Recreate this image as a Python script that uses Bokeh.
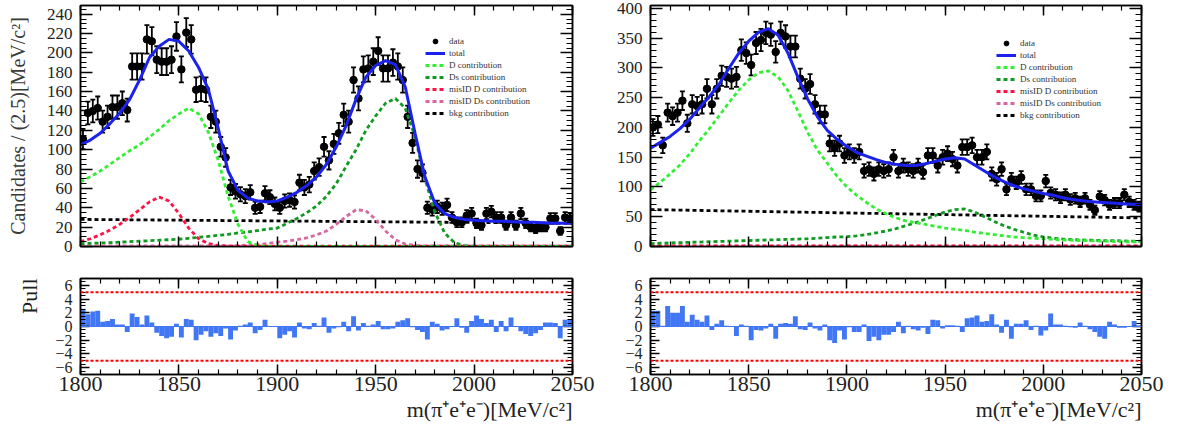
import numpy as np
from bokeh.plotting import figure
from bokeh.models import (Range1d, LinearAxis, SingleIntervalTicker, CustomJSTickFormatter,
                          Legend, LegendItem, Whisker, ColumnDataSource, Span, Title, TeeHead)
from bokeh.layouts import column, row
from bokeh.embed import file_html
from bokeh.resources import INLINE

# ---------------- data ----------------
X_LOW, X_HIGH, BIN_WIDTH = 1800.0, 2050.0, 2.5
x_ticks_step = 50

counts_left = [111, 138, 140, 143, 129, 134, 144, 144, 148, 141,
               186, 186, 186, 214, 212, 193, 191, 191, 193, 217,
               183, 221, 214, 162, 163, 162, 134, 129, 103, 92,
               61, 57, 54, 52, 56, 40, 41, 55, 51, 44,
               40, 47, 48, 46, 66, 61, 64, 78, 82, 103,
               89, 106, 117, 136, 129, 172, 153, 183, 184, 191,
               202, 184, 184, 190, 186, 172, 134, 107, 80, 76,
               40, 38, 41, 39, 43, 30, 25, 25, 32, 34,
               24, 22, 34, 36, 30, 30, 22, 30, 22, 34,
               24, 20, 18, 20, 20, 29, 29, 16, 30, 29]

counts_right = [200, 205, 170, 225, 219, 225, 245, 207, 239, 236,
                239, 265, 239, 265, 287, 285, 282, 285, 330, 325,
                305, 342, 347, 359, 356, 327, 359, 353, 336, 336,
                282, 265, 273, 239, 222, 222, 173, 165, 173, 153,
                159, 153, 159, 127, 130, 122, 130, 127, 130, 150,
                127, 136, 130, 127, 136, 125, 153, 153, 136, 150,
                156, 147, 136, 167, 167, 170, 150, 150, 159, 122,
                113, 130, 96, 113, 107, 116, 96, 96, 85, 85,
                110, 90, 87, 82, 87, 79, 81, 75, 81, 70,
                61, 84, 78, 70, 73, 73, 87, 75, 70, 67]

pull_left = [2.6, 1.8, 2.2, 2.3, 0.7, 0.8, 1.1, 0.3, 0.3, -0.8,
             1.9, 1.4, 0.3, 1.6, 0.6, -0.9, -1.4, -1.7, -1.5, 0.4,
             -1.6, 1.1, 1.0, -2.0, -1.2, -0.7, -1.5, -1.0, -1.4, -0.3,
             -1.9, -0.6, 0.1, 0.3, 0.6, -1.0, -0.5, 1.0, 0.0, 0.0,
             -1.7, -1.2, -0.7, -1.6, 0.6, -0.3, -0.4, 0.5, 0.1, 1.3,
             -0.9, -0.3, -0.1, 0.7, -0.7, 1.5, -0.6, 0.5, 0.1, 0.3,
             0.8, -0.4, -0.4, -0.3, 0.7, 0.9, 1.2, -0.1, -0.5, -0.8,
             -1.9, 0.7, 0.4, -0.6, -0.4, 0.0, 1.2, -0.2, -0.9, 0.8,
             1.6, 1.1, 0.5, 1.0, -0.8, 0.8, -0.7, 1.3, 0.0, -0.7,
             -1.1, -1.4, -1.0, -0.5, 0.6, 0.6, 0.5, -1.7, 1.0, 1.0]

pull_right = [2.3, 2.3, 0.1, 3.0, 2.0, 2.0, 3.0, 0.7, 1.7, 1.0,
              0.7, 1.6, -0.5, 0.4, 0.9, 0.1, 0.0, -1.4, 0.3, 0.1,
              -2.0, -0.5, -0.6, -0.3, 0.4, -1.8, 0.4, 0.5, 0.4, 1.5,
              -0.4, -0.5, 0.6, -0.3, -0.6, 0.3, -2.0, -2.4, -0.6, -1.9,
              -0.1, -0.8, -0.8, 0.3, -2.1, -1.5, -2.0, -1.2, -1.2, -0.8,
              0.7, -1.0, 0.1, -0.4, -0.6, -0.2, -1.1, 1.0, 0.9, -0.3,
              0.2, 0.2, 0.1, -0.8, 1.2, 1.3, 1.6, 0.7, 0.8, 1.8,
              0.3, -0.9, 1.0, -1.8, 0.4, 0.4, 0.9, -0.5, 0.1, -1.3,
              -0.6, 1.9, 0.3, 0.3, 0.1, -0.1, -0.2, 0.6, 0.1, -0.4,
              -0.8, -1.5, -1.8, 0.7, 0.3, -0.2, -0.2, 0.0, 0.8, 0.1]

pull_limits = [5, -5]

curve_mass = [1800 + 5 * k for k in range(51)]

total_left = [105, 110, 117, 127, 138, 152, 172, 195, 207, 214,
              212, 202, 185, 162, 122, 78, 58, 50, 47, 46,
              47, 51, 56, 63, 72, 85, 103, 125, 152, 175,
              187, 192, 188, 165, 117, 72, 45, 34, 30, 28,
              27, 26.5, 26, 26, 25.5, 25, 25, 24.5, 24, 24, 24]
d_left = [67, 72, 78, 85, 92, 99, 105, 113, 121, 130,
          137, 143, 137, 118, 89, 52, 23, 5, 1] + [0] * 32
ds_left = [3, 3.3, 3.6, 4, 4.5, 5, 5.5, 6, 6.5, 7,
           7.5, 8.5, 9.5, 10.5, 11.5, 12.5, 14, 15, 16.5, 18,
           19, 24, 29, 35, 42, 52, 65, 83, 100, 120,
           135, 148, 153, 143, 113, 70, 36, 14, 4, 1] + [0] * 11
misid_d_left = [5, 8, 12, 17, 23, 30, 38, 46, 51, 47,
                34, 19, 8, 3, 1, 0.5] + [0.3] * 35
misid_ds_left = [0.5] * 16 + [1, 1.5, 2, 3, 4.5, 5.5, 7, 9, 12, 16,
                              23, 31, 38, 37, 28, 16, 7, 2.5, 1] + [0.5] * 16

total_right = [165, 175, 185, 198, 214, 233, 252, 273, 300, 325,
               345, 360, 366, 355, 325, 285, 248, 218, 195, 180,
               168, 158, 152, 146, 141, 138, 136, 136, 139, 143,
               147, 149, 147, 137, 127, 117, 109, 102, 97, 93,
               89, 86, 82, 79, 77, 75, 74, 73, 72, 71, 70]
d_right = [95, 108, 122, 137, 156, 178, 198, 220, 242, 263,
           280, 292, 295, 285, 262, 228, 192, 162, 140, 118,
           100, 86, 74, 63, 55, 48, 43, 40, 37, 34,
           31, 29, 27, 24, 22, 20, 18, 16, 15, 14,
           13, 12, 11, 10.5, 10, 9.5, 9, 8.5, 8, 8, 8]
ds_right = [5, 5.5, 6, 6.5, 7, 7.5, 8, 8.5, 9, 9.5,
            10, 10.5, 11, 11.5, 12, 12.5, 13, 14, 15, 16,
            16.5, 18, 20, 23, 26, 30, 35, 40, 46, 52,
            58, 62, 63, 58, 50, 42, 35, 29, 24, 19,
            16, 14, 12.5, 11.5, 11, 10.5, 10, 10, 9.5, 9, 9]

flat_mass = [1800, 2050]
bkg_left = [28, 24]
bkg_right = [62, 48]
misid_d_right = [1.0, 1.0]
misid_ds_right = [0.5, 0.5]

# ---------------- style ----------------
FONT = "Liberation Serif"
C_TOTAL = "#1c22ee"
C_D = "#33ee33"
C_DS = "#119a22"
C_MD = "#ff1144"
C_MDS = "#d8679f"
C_BKG = "#000000"
C_PULL = "#4176f4"
DASH = "4 3"
DASH_W = 2.8


def style_axis(ax, major_in, minor_in, label_size=None):
    ax.axis_line_color = "black"
    ax.axis_line_width = 1.5
    ax.major_tick_in = major_in
    ax.major_tick_out = 0
    ax.minor_tick_in = minor_in
    ax.minor_tick_out = 0
    ax.major_tick_line_color = "black"
    ax.minor_tick_line_color = "black"
    ax.major_tick_line_width = 1.5
    ax.minor_tick_line_width = 1.2
    if label_size is None:
        ax.formatter = CustomJSTickFormatter(code="return ''")
        ax.major_label_text_font_size = "0px"
        ax.major_label_standoff = 0
    else:
        ax.formatter = CustomJSTickFormatter(
            code="return tick < 0 ? '\u2212' + Math.abs(tick) : String(tick)")
        ax.major_label_text_font = FONT
        ax.major_label_text_font_size = label_size
        ax.major_label_text_color = "#222222"


def base_fig(width, height, bl, br, bt, bb, y_range, x_range):
    p = figure(width=width, height=height, x_range=x_range, y_range=y_range,
               output_backend="svg", toolbar_location=None,
               x_axis_location=None, y_axis_location=None,
               min_border_left=bl, min_border_right=br,
               min_border_top=bt, min_border_bottom=bb)
    p.grid.visible = False
    p.outline_line_color = "black"
    p.outline_line_width = 1.5
    p.background_fill_color = "white"
    p.border_fill_color = "white"
    return p


def make_main(width, bl, br, y_max, y_step, y_minor, counts, total, d, ds, md_x, md, mds_x, mds,
              bkg, legend_loc, x_range, y_label=None):
    p = base_fig(width, 260, bl, br, 5, 14, Range1d(0, y_max), x_range)
    xt = SingleIntervalTicker(interval=x_ticks_step, num_minor_ticks=5)
    yt = SingleIntervalTicker(interval=y_step, num_minor_ticks=y_minor)
    for side in ("below", "above"):
        ax = LinearAxis(ticker=xt)
        style_axis(ax, 10, 5)
        p.add_layout(ax, side)
    ly = LinearAxis(ticker=yt)
    style_axis(ly, 12, 6, "17px")
    ly.major_label_standoff = 8
    if y_label:
        ly.axis_label = y_label
        ly.axis_label_text_font = FONT
        ly.axis_label_text_font_size = "20px"
        ly.axis_label_text_font_style = "normal"
        ly.axis_label_text_color = "#3a3a3a"
        ly.axis_label_standoff = 15
    p.add_layout(ly, "left")
    ry = LinearAxis(ticker=yt)
    style_axis(ry, 12, 6)
    p.add_layout(ry, "right")

    counts = np.array(counts, dtype=float)
    err = np.sqrt(counts)
    centers = X_LOW + BIN_WIDTH * (np.arange(len(counts)) + 0.5)
    src = ColumnDataSource(dict(x=centers, y=counts, lo=counts - err, hi=counts + err,
                                xl=centers - BIN_WIDTH / 2, xr=centers + BIN_WIDTH / 2))
    p.add_layout(Whisker(source=src, base="x", upper="hi", lower="lo", line_color="black",
                         line_width=1.8,
                         upper_head=TeeHead(size=5, line_color="black", line_width=1.8),
                         lower_head=TeeHead(size=5, line_color="black", line_width=1.8)))
    p.segment(x0="xl", x1="xr", y0="y", y1="y", source=src, line_color="black", line_width=1.8)
    r_data = p.scatter("x", "y", source=src, size=7.5, color="black", marker="circle")

    r_bkg = p.line(flat_mass, bkg, line_color=C_BKG, line_width=DASH_W, line_dash=DASH)
    r_mds = p.line(mds_x, mds, line_color=C_MDS, line_width=DASH_W, line_dash=DASH)
    r_md = p.line(md_x, md, line_color=C_MD, line_width=DASH_W, line_dash=DASH)
    r_ds = p.line(curve_mass, ds, line_color=C_DS, line_width=DASH_W, line_dash=DASH)
    r_d = p.line(curve_mass, d, line_color=C_D, line_width=DASH_W, line_dash=DASH)
    r_tot = p.line(curve_mass, total, line_color=C_TOTAL, line_width=3)

    items = [LegendItem(label="data", renderers=[r_data]),
             LegendItem(label="total", renderers=[r_tot]),
             LegendItem(label="D contribution", renderers=[r_d]),
             LegendItem(label="Ds contribution", renderers=[r_ds]),
             LegendItem(label="misID D contribution", renderers=[r_md]),
             LegendItem(label="misID Ds contribution", renderers=[r_mds]),
             LegendItem(label="bkg contribution", renderers=[r_bkg])]
    leg = Legend(items=items, location=legend_loc, padding=0, spacing=0, margin=0,
                 label_height=12, glyph_height=12, glyph_width=20, label_standoff=4,
                 label_text_font=FONT, label_text_font_size="9px", label_text_color="#333333",
                 border_line_alpha=0, background_fill_alpha=0)
    p.add_layout(leg)
    return p


def make_pull(width, bl, br, pulls, x_range, pull_title):
    p = base_fig(width, 173, bl, br, 18, 59, Range1d(-7, 7), x_range)
    xt = SingleIntervalTicker(interval=x_ticks_step, num_minor_ticks=5)
    yt = SingleIntervalTicker(interval=2, num_minor_ticks=4)
    bx = LinearAxis(ticker=xt)
    style_axis(bx, 10, 5, "22px")
    bx.major_label_standoff = 2
    p.add_layout(bx, "below")
    tx = LinearAxis(ticker=xt)
    style_axis(tx, 10, 5)
    p.add_layout(tx, "above")
    ly = LinearAxis(ticker=yt)
    style_axis(ly, 9, 5, "16px")
    ly.major_label_standoff = 8
    p.add_layout(ly, "left")
    ry = LinearAxis(ticker=yt)
    style_axis(ry, 9, 5)
    p.add_layout(ry, "right")

    pulls = np.array(pulls, dtype=float)
    left_edges = X_LOW + BIN_WIDTH * np.arange(len(pulls))
    p.quad(left=left_edges, right=left_edges + BIN_WIDTH, top=np.maximum(pulls, 0),
           bottom=np.minimum(pulls, 0), fill_color=C_PULL, line_color=None)
    p.add_layout(Span(location=0, dimension="width", line_color=C_PULL, line_width=1))
    for lim in pull_limits:
        p.add_layout(Span(location=lim, dimension="width", line_color="#ff0000",
                          line_width=2, line_dash="3 2"))

    p.add_layout(Title(text="m(\u03c0\u207ae\u207ae\u207b)[MeV/c\u00b2]", align="right",
                       text_font=FONT, text_font_size="22px", text_font_style="normal",
                       text_color="#222222", standoff=2), "below")
    if pull_title:
        p.add_layout(Title(text="Pull", align="right", text_font=FONT, text_font_size="22px",
                           text_font_style="normal", text_color="#222222", standoff=22), "left")
    return p


xr_left = Range1d(X_LOW, X_HIGH)
xr_right = Range1d(X_LOW, X_HIGH)

main_l = make_main(600, 80, 28, 249, 20, 4, counts_left, total_left, d_left, ds_left,
                   curve_mass, misid_d_left, curve_mass, misid_ds_left, bkg_left,
                   (345, 127), xr_left, y_label="Candidates / (2.5)[MeV/c\u00b2]")
main_r = make_main(580, 50, 39, 405, 50, 5, counts_right, total_right, d_right, ds_right,
                   flat_mass, misid_d_right, flat_mass, misid_ds_right, bkg_right,
                   (346, 125), xr_right)
pull_l = make_pull(600, 80, 28, pull_left, xr_left, True)
pull_r = make_pull(580, 50, 39, pull_right, xr_right, False)

layout = column(row(main_l, main_r), row(pull_l, pull_r))

open("out.html", "w").write(file_html(layout, INLINE))
